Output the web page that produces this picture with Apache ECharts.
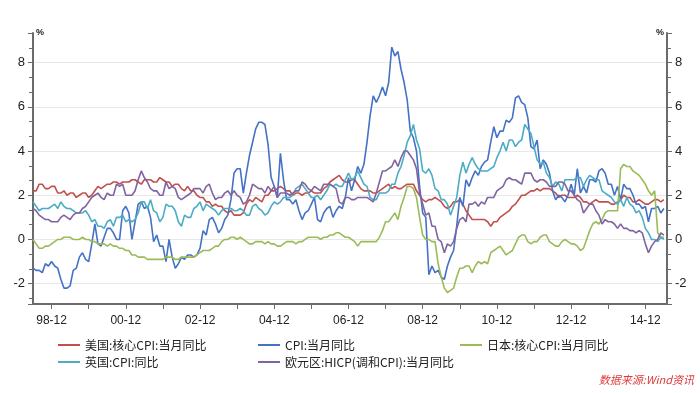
<!DOCTYPE html>
<html><head><meta charset="utf-8">
<script src="https://cdn.jsdelivr.net/npm/echarts@6/dist/echarts.min.js"></script>
<style>html,body{margin:0;padding:0;background:#fff}#c{width:700px;height:393px}</style>
</head><body><div id="c"></div>
<script>
// Monthly categories: 1998-06 .. 2015-07
const startYear = 1998, startMonth = 6, monthCount = 206;
const seriesNames = ['美国:核心CPI:当月同比', 'CPI:当月同比', '日本:核心CPI:当月同比', '英国:CPI:同比', '欧元区:HICP(调和CPI):当月同比'];
const yTickLabels = [-2, 0, 2, 4, 6, 8];

// values from 1998-06 to 2015-06
const usCore = [
 2.2,2.2,2.5,2.5,2.3,2.3,2.4,
 2.4,2.1,2.1,2.2,2.0,2.1,2.1,1.9,2.0,2.1,2.1,1.9,
 2.0,2.2,2.4,2.3,2.4,2.5,2.5,2.6,2.6,2.5,2.6,2.6,
 2.6,2.7,2.7,2.6,2.5,2.7,2.7,2.7,2.6,2.6,2.8,2.7,
 2.6,2.6,2.4,2.5,2.5,2.3,2.2,2.4,2.2,2.2,2.0,1.9,
 1.9,1.7,1.7,1.5,1.6,1.5,1.5,1.3,1.2,1.3,1.1,1.1,
 1.1,1.2,1.6,1.8,1.7,1.9,1.8,1.7,2.0,2.0,2.2,2.2,
 2.3,2.4,2.3,2.2,2.2,2.0,2.1,2.1,2.0,2.1,2.1,2.2,
 2.1,2.1,2.1,2.3,2.4,2.6,2.7,2.8,2.9,2.7,2.6,2.6,
 2.7,2.7,2.5,2.3,2.2,2.2,2.2,2.1,2.1,2.2,2.3,2.4,
 2.5,2.3,2.4,2.3,2.3,2.4,2.5,2.5,2.5,2.2,2.0,1.8,
 1.7,1.8,1.8,1.9,1.8,1.7,1.5,1.4,1.5,1.7,1.7,1.8,
 1.6,1.3,1.1,0.9,0.9,0.9,0.9,0.9,0.8,0.6,0.8,0.8,
 1.0,1.1,1.2,1.3,1.5,1.6,1.8,2.0,2.0,2.1,2.2,2.2,
 2.3,2.2,2.3,2.3,2.3,2.2,2.1,1.9,2.0,2.0,1.9,1.9,
 1.9,2.0,1.9,1.7,1.7,1.6,1.7,1.8,1.7,1.7,1.7,1.7,
 1.6,1.6,1.7,1.8,2.0,1.9,1.9,1.7,1.7,1.8,1.7,1.6,
 1.6,1.7,1.8,1.8,1.7,1.8
];
const cnCpi = [
 -1.3,-1.4,-1.4,-1.5,-1.1,-1.2,-1.0,
 -1.2,-1.3,-1.8,-2.2,-2.2,-2.1,-1.4,-1.3,-0.8,-0.6,-0.9,-1.0,
 -0.2,0.7,-0.2,-0.3,0.1,0.5,0.5,0.3,0.0,0.0,1.3,1.5,
 1.2,0.0,0.8,1.6,1.7,1.4,1.5,1.0,-0.1,0.2,-0.3,-0.3,
 -1.0,0.0,-0.8,-1.3,-1.1,-0.8,-0.9,-0.7,-0.7,-0.8,-0.7,-0.4,
 0.4,0.2,0.9,1.0,0.7,0.3,0.5,0.9,1.1,1.8,3.0,3.2,
 3.2,2.1,3.0,3.8,4.4,5.0,5.3,5.3,5.2,4.3,2.8,2.4,
 1.9,3.9,2.7,1.8,1.8,1.6,1.8,1.3,0.9,1.2,1.3,1.6,
 1.9,0.9,0.8,1.2,1.4,1.5,1.0,1.3,1.5,1.4,1.9,2.8,
 2.2,2.7,3.3,3.0,3.4,4.4,5.6,6.5,6.2,6.5,6.9,6.5,
 7.1,8.7,8.3,8.5,7.7,7.1,6.3,4.9,4.6,4.0,2.4,1.2,
 1.0,-1.6,-1.2,-1.5,-1.4,-1.7,-1.8,-1.2,-0.8,-0.5,0.6,1.9,
 1.5,2.7,2.4,2.8,3.1,2.9,3.3,3.5,3.6,4.4,5.1,4.6,
 4.9,4.9,5.4,5.3,5.5,6.4,6.5,6.2,6.1,5.5,4.2,4.1,
 4.5,3.2,3.6,3.4,3.0,2.2,1.8,2.0,1.9,1.7,2.0,2.5,
 2.0,3.2,2.1,2.4,2.1,2.7,2.7,2.6,3.1,3.2,3.0,2.5,
 2.5,2.0,2.4,1.8,2.5,2.3,2.3,2.0,1.6,1.6,1.4,1.5,
 0.8,1.4,1.4,1.5,1.2,1.4
];
const jpCore = [
 0.0,-0.2,-0.4,-0.4,-0.3,-0.3,-0.2,
 -0.1,0.0,0.0,0.1,0.1,0.1,0.0,0.0,0.0,0.1,0.0,0.0,
 -0.1,-0.1,-0.2,-0.2,-0.2,-0.3,-0.2,-0.3,-0.3,-0.4,-0.4,-0.5,
 -0.5,-0.7,-0.7,-0.8,-0.8,-0.8,-0.9,-0.9,-0.9,-0.9,-0.9,-0.9,
 -0.8,-0.8,-0.8,-0.9,-0.9,-0.8,-0.8,-0.8,-0.8,-0.8,-0.7,-0.6,
 -0.5,-0.5,-0.5,-0.4,-0.3,-0.3,-0.1,0.0,0.0,0.1,0.1,0.0,
 0.1,0.0,-0.1,-0.2,-0.2,-0.1,-0.1,-0.1,-0.2,-0.1,-0.2,-0.2,
 -0.3,-0.3,-0.2,-0.1,-0.1,-0.1,-0.2,-0.1,-0.1,0.0,0.1,0.1,
 0.1,0.1,0.0,0.1,0.1,0.2,0.2,0.3,0.3,0.2,0.1,0.1,
 0.0,-0.1,-0.3,-0.1,-0.1,-0.1,-0.1,-0.1,-0.1,0.1,0.4,0.8,
 0.8,1.0,1.2,0.9,1.5,1.9,2.4,2.4,2.3,1.9,1.0,0.2,
 0.0,0.0,-0.1,-0.1,-1.1,-1.7,-2.2,-2.4,-2.3,-2.2,-1.7,-1.3,
 -1.3,-1.2,-1.2,-1.5,-1.2,-1.0,-1.1,-1.0,-1.1,-0.6,-0.5,-0.4,
 -0.3,-0.5,-0.7,-0.6,-0.5,-0.2,0.1,0.2,0.2,-0.1,-0.2,-0.1,
 -0.1,0.1,0.2,0.2,-0.1,-0.2,-0.3,-0.3,-0.1,0.0,-0.1,-0.2,
 -0.2,-0.3,-0.5,-0.4,0.0,0.4,0.7,0.8,0.7,0.9,1.2,1.3,
 1.3,1.3,1.3,3.2,3.4,3.3,3.3,3.1,3.0,2.9,2.7,2.5,
 2.2,2.0,2.2,0.3,0.1,0.1
];
const ukCpi = [
 1.7,1.5,1.3,1.4,1.4,1.4,1.5,
 1.6,1.4,1.7,1.5,1.4,1.4,1.3,1.2,1.2,1.2,1.3,1.1,
 0.8,0.9,0.6,0.6,0.5,0.8,0.9,0.6,1.0,1.0,1.1,0.8,
 0.9,0.8,0.9,1.2,1.7,1.7,1.4,1.8,1.3,1.2,0.8,1.0,
 1.6,1.5,1.5,1.3,0.8,0.6,1.1,1.0,1.0,1.4,1.5,1.7,
 1.3,1.6,1.5,1.4,1.3,1.1,1.3,1.4,1.4,1.4,1.3,1.3,
 1.4,1.3,1.1,1.1,1.5,1.6,1.4,1.3,1.1,1.2,1.5,1.7,
 1.6,1.7,1.9,1.9,1.9,2.0,2.3,2.4,2.5,2.3,2.1,1.9,
 1.9,2.0,1.8,2.0,2.2,2.5,2.4,2.5,2.4,2.4,2.7,3.0,
 2.7,2.8,3.1,2.8,2.5,2.4,1.9,1.8,1.8,2.1,2.1,2.1,
 2.2,2.5,2.5,3.0,3.3,3.8,4.4,4.7,5.2,4.5,4.1,3.1,
 3.0,3.2,2.9,2.3,2.2,1.8,1.8,1.6,1.1,1.5,1.9,2.9,
 3.5,3.0,3.4,3.7,3.4,3.2,3.1,3.1,3.1,3.2,3.3,3.7,
 4.0,4.4,4.0,4.5,4.5,4.2,4.4,4.5,5.2,5.0,4.8,4.2,
 3.6,3.4,3.5,3.0,2.8,2.4,2.6,2.5,2.2,2.7,2.7,2.7,
 2.7,2.8,2.8,2.4,2.7,2.9,2.8,2.7,2.7,2.2,2.1,2.0,
 1.9,1.7,1.6,1.8,1.5,1.9,1.6,1.5,1.2,1.3,1.0,0.5,
 0.3,0.0,0.0,-0.1,0.1,0.0
];
const ezHicp = [
 1.4,1.3,1.1,1.0,0.9,0.9,0.8,
 0.8,0.8,1.0,1.1,1.0,0.9,1.1,1.2,1.2,1.4,1.5,1.7,
 1.9,2.0,2.1,1.9,1.8,2.1,2.0,2.0,2.5,2.4,2.5,2.0,
 2.0,2.0,2.2,2.7,3.1,2.8,2.6,2.3,2.2,2.2,2.0,2.0,
 2.6,2.3,2.4,2.3,1.9,1.8,1.9,2.0,2.1,2.3,2.3,2.3,
 2.1,2.4,2.5,2.1,1.8,1.9,1.9,2.1,2.2,2.0,2.2,2.0,
 1.9,1.6,1.7,2.0,2.5,2.4,2.3,2.3,2.1,2.4,2.2,2.4,
 1.9,2.1,2.1,2.1,2.0,2.1,2.2,2.2,2.6,2.5,2.3,2.2,
 2.4,2.3,2.2,2.5,2.5,2.5,2.4,2.3,1.7,1.6,1.9,1.9,
 1.8,1.8,1.9,1.9,1.9,1.9,1.8,1.7,2.1,2.6,3.1,3.1,
 3.2,3.3,3.6,3.3,3.7,4.0,4.0,3.8,3.6,3.2,2.1,1.6,
 1.1,1.2,0.6,0.6,0.0,-0.1,-0.6,-0.2,-0.3,-0.1,0.5,0.9,
 1.0,0.8,1.6,1.6,1.7,1.5,1.7,1.6,1.9,1.9,1.9,2.2,
 2.3,2.4,2.7,2.8,2.7,2.7,2.6,2.5,3.0,3.0,3.0,2.7,
 2.6,2.7,2.7,2.6,2.4,2.4,2.4,2.6,2.6,2.5,2.2,2.2,
 2.0,1.8,1.7,1.2,1.4,1.6,1.6,1.3,1.1,0.7,0.9,0.8,
 0.8,0.7,0.5,0.7,0.5,0.5,0.4,0.4,0.3,0.4,0.3,-0.2,
 -0.6,-0.3,-0.1,0.0,0.3,0.2
];

const categories = [];
for (let i = 0; i < monthCount; i++) {
  const t = startYear * 12 + (startMonth - 1) + i;
  const y = Math.floor(t / 12), m = t % 12 + 1;
  categories.push(String(y % 100).padStart(2, '0') + '-' + String(m).padStart(2, '0'));
}
const colors = ['#C0504D', '#4472C4', '#9BBB59', '#4BACC6', '#8064A2'];
const dataList = [usCore, cnCpi, jpCore, ukCpi, ezHicp];
const font = 'Liberation Sans, Arial, sans-serif';
const cjk = 'Noto Sans CJK SC, sans-serif';

const isDec = (i) => categories[i] && categories[i].slice(3) === '12';
const isLabel = (i) => isDec(i) && (parseInt(categories[i].slice(0, 2), 10) % 2 === 0);

function yAxisCfg(pos) {
  return {
    type: 'value', position: pos, min: -2.92, max: 9.34,
    splitNumber: 6, minInterval: 2, maxInterval: 2,
    axisLine: {show: true, onZero: false, lineStyle: {color: '#6b6b6b', width: 2}},
    axisTick: {show: true, inside: false, length: 5, lineStyle: {color: '#6b6b6b', width: 1}},
    minorTick: {show: true, splitNumber: 3, length: 4, lineStyle: {color: '#6b6b6b', width: 1}},
    axisLabel: {show: true, showMinLabel: false, showMaxLabel: false, margin: 8,
      color: '#222', fontSize: 13, fontFamily: font,
      formatter: (v) => yTickLabels.indexOf(v) >= 0 ? String(v) : ''},
    splitLine: {show: pos === 'left', showMinLine: false, showMaxLine: false,
      lineStyle: {color: '#e8e8e8', width: 1}}
  };
}

const legendPos = [[53, 334], [253, 334], [455, 334], [53, 351], [253, 351]];
const chart = echarts.init(document.getElementById('c'), null, {renderer: 'canvas'});
chart.setOption({
  backgroundColor: '#fff',
  animation: false,
  grid: {left: 33, right: 33, top: 33, bottom: 89},
  xAxis: {
    type: 'category', data: categories, boundaryGap: false,
    axisLine: {show: true, onZero: false, lineStyle: {color: '#6b6b6b', width: 2}},
    axisTick: {show: true, length: 5, interval: (i) => isDec(i), lineStyle: {color: '#6b6b6b'}},
    axisLabel: {interval: (i) => isLabel(i), color: '#222', fontSize: 12, fontFamily: font, margin: 11},
    splitLine: {show: false}
  },
  yAxis: [yAxisCfg('left'), yAxisCfg('right')],
  legend: seriesNames.map((n, k) => ({
    data: [{name: n, icon: 'rect'}], left: legendPos[k][0], top: legendPos[k][1],
    icon: 'rect', itemWidth: 22, itemHeight: 2, itemGap: 5,
    itemStyle: {color: colors[k]},
    textStyle: {fontSize: 12, color: '#222', fontFamily: cjk}
  })),
  graphic: [
    {type: 'text', left: 36, top: 28, style: {text: '%', font: 'bold 9px ' + font, fill: '#222'}},
    {type: 'text', left: 656, top: 28, style: {text: '%', font: 'bold 9px ' + font, fill: '#222'}},
    {type: 'text', right: 6, top: 374, style: {text: '数据来源:Wind资讯', font: 'italic 11px ' + cjk, fill: '#e03a3a'}}
  ],
  series: seriesNames.map((n, k) => ({
    name: n, type: 'line', data: dataList[k], yAxisIndex: 0,
    showSymbol: false, symbol: 'none', smooth: false,
    lineStyle: {color: colors[k], width: 1.6}, itemStyle: {color: colors[k]}
  }))
});
</script></body></html>
